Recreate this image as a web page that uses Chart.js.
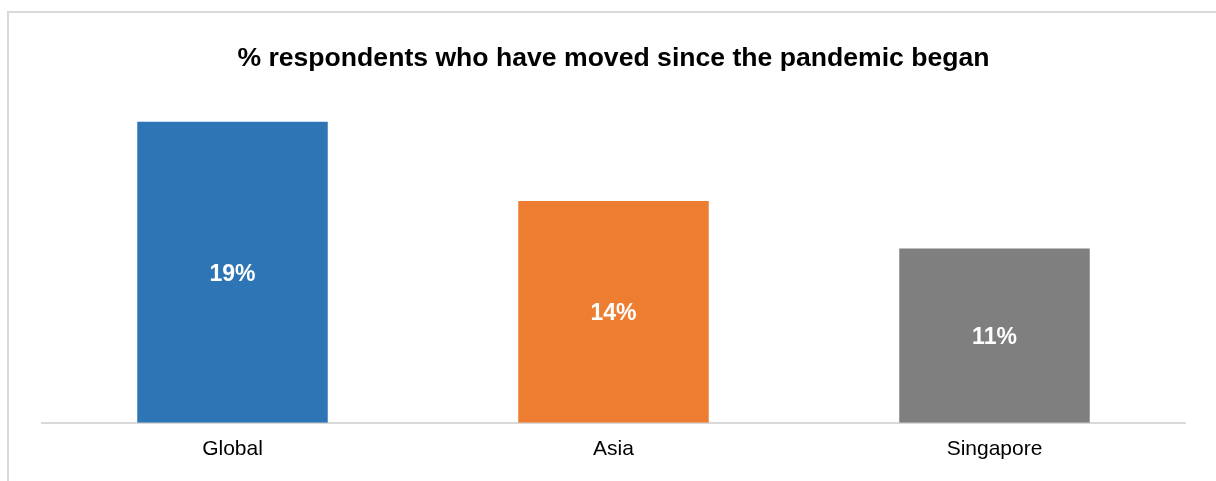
<!DOCTYPE html>
<html>
<head>
<meta charset="utf-8">
<script src="https://cdn.jsdelivr.net/npm/chart.js@4/dist/chart.umd.min.js"></script>
<style>
  html, body { margin: 0; padding: 0; background: #fff; }
  #wrap { position: relative; width: 1216px; height: 481px; overflow: hidden; }
  #frame { position: absolute; left: 7px; top: 11px; width: 1300px; height: 600px; border: 2px solid #d9d9d9; box-sizing: border-box; }
  canvas { position: absolute; left: 0; top: 0; }
</style>
</head>
<body>
<div id="wrap">
  <div id="frame"></div>
  <canvas id="movedChart" width="1216" height="481"></canvas>
</div>
<script>
  // Chart data
  const categories = ["Global", "Asia", "Singapore"];
  const movedPct = [19, 14, 11];
  const barColors = ["#2e75b6", "#ed7d31", "#7f7f7f"];

  // Draw the % label in the middle of each bar
  const barLabels = {
    id: "barLabels",
    afterDatasetsDraw(chart) {
      const ctx = chart.ctx;
      const meta = chart.getDatasetMeta(0);
      ctx.save();
      ctx.fillStyle = "#ffffff";
      ctx.font = "bold 23px 'Liberation Sans', Arial, sans-serif";
      ctx.textAlign = "center";
      ctx.textBaseline = "middle";
      meta.data.forEach((bar, i) => {
        const mid = (bar.y + bar.base) / 2;
        ctx.fillText(movedPct[i] + "%", bar.x, mid + 2);
      });
      ctx.restore();
    },
  };

  new Chart(document.getElementById("movedChart"), {
    type: "bar",
    data: {
      labels: categories,
      datasets: [
        {
          data: movedPct,
          backgroundColor: barColors,
          barPercentage: 0.5,
          categoryPercentage: 1,
        },
      ],
    },
    options: {
      responsive: false,
      animation: false,
      layout: {
        padding: { left: 42, right: 31, top: 0, bottom: 13 },
      },
      plugins: {
        legend: { display: false },
        tooltip: { enabled: false },
        title: {
          display: true,
          text: "% respondents who have moved since the pandemic began",
          color: "#000000",
          font: { family: "'Liberation Sans', Arial, sans-serif", size: 26.6, weight: "bold" },
          padding: { top: 43, bottom: 31 },
        },
      },
      scales: {
        x: {
          grid: { display: false },
          border: { display: true, color: "#d9d9d9", width: 2 },
          ticks: {
            color: "#000000",
            padding: 6,
            font: { family: "'Liberation Sans', Arial, sans-serif", size: 21 },
          },
        },
        y: {
          display: false,
          min: 0,
          max: 20,
        },
      },
    },
    plugins: [barLabels],
  });
</script>
</body>
</html>
